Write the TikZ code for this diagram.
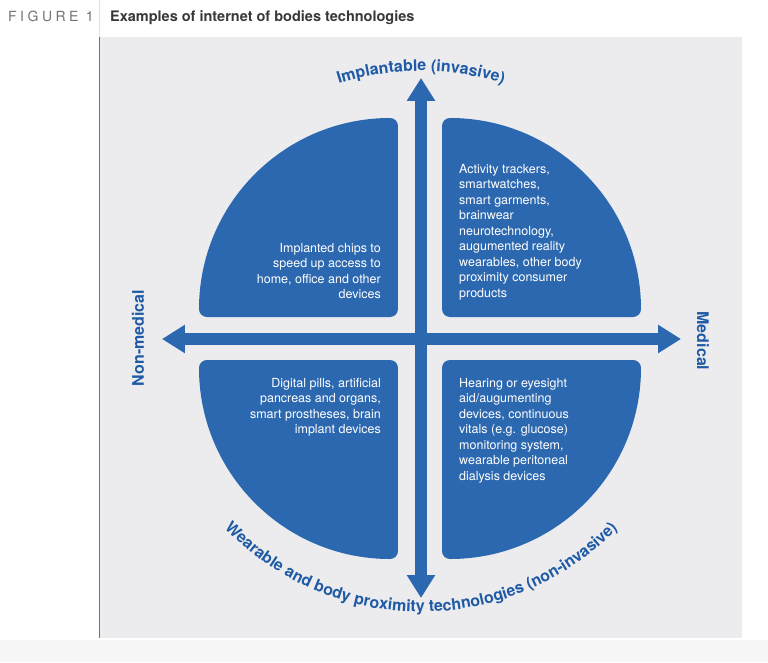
\documentclass[tikz,border=0pt]{standalone}
\usepackage{fontspec}
\setmainfont{TeX Gyre Heros}
\usetikzlibrary{arrows.meta,decorations.text}
\definecolor{quadblue}{HTML}{2C68B0}
\definecolor{axisblue}{HTML}{1F5AA5}
\definecolor{panelgray}{HTML}{ECECEF}

\begin{document}
\begin{tikzpicture}[x=1pt, y=1pt,
  quad/.style={fill=quadblue, draw=quadblue, line width=16pt, line join=round},
  quadtext/.style={text=white, inner sep=0pt, font=\fontsize{12.5}{15.5}\selectfont},
  axis/.style={draw=quadblue, line width=12.5pt, {Triangle[length=23pt,width=27pt]}-{Triangle[length=23pt,width=27pt]}},
  axislabel/.style={text=axisblue, inner sep=0pt, font=\fontsize{16}{18}\selectfont\bfseries}]
\useasboundingbox (-421,-323) rectangle (347,339);
\fill[white] (-421,-323) rectangle (347,339);
\fill[black!3] (-421,-323) rectangle (347,-301);
\fill[panelgray] (-321,-299) rectangle (321,302);
\draw[black!12, line width=1pt] (-321,339) -- (-321,302);
\draw[black!55, line width=1pt] (-321,302) -- (-321,-299);
% header
\node[anchor=base west, inner sep=0pt, text=black!55, font=\fontsize{14}{16}\selectfont\addfontfeatures{LetterSpace=25}] (fig) at (-413,317) {FIGURE 1};
\node[anchor=base west, inner sep=0pt, text=black!78, font=\fontsize{14.5}{16}\selectfont\bfseries] (title) at (-311,317) {Examples of internet of bodies technologies};
% quadrants
\path[quad] (29,30) -- (29,213) arc[start angle=90, end angle=0, radius=183] -- cycle;
\path[quad] (-31,30) -- (-31,213) arc[start angle=90, end angle=180, radius=183] -- cycle;
\path[quad] (-31,-29) -- (-31,-212) arc[start angle=270, end angle=180, radius=183] -- cycle;
\path[quad] (29,-29) -- (29,-212) arc[start angle=270, end angle=360, radius=183] -- cycle;
% axes
\coordinate (west) at (-259,0);
\coordinate (east) at (260,0);
\coordinate (north) at (0,261);
\coordinate (south) at (0,-259);
\draw[axis] (west) -- (east);
\draw[axis] (south) -- (north);
% quadrant texts
\node[quadtext, anchor=north east, align=right] (implanted) at (-40,96) {Implanted chips to\\speed up access to\\home, office and other\\devices};
\node[quadtext, anchor=north west, align=left] (trackers) at (38,175) {Activity trackers,\\smartwatches,\\smart garments,\\brainwear\\neurotechnology,\\augumented reality\\wearables, other body\\proximity consumer\\products};
\node[quadtext, anchor=north east, align=right] (pills) at (-40,-39) {Digital pills, artificial\\pancreas and organs,\\smart prostheses, brain\\implant devices};
\node[quadtext, anchor=north west, align=left] (hearing) at (38,-39) {Hearing or eyesight\\aid/augumenting\\devices, continuous\\vitals (e.g. glucose)\\monitoring system,\\wearable peritoneal\\dialysis devices};
% axis labels
\node[axislabel, rotate=90] (nonmedical) at (-283,1) {Non-medical};
\node[axislabel, rotate=-90] (medical) at (282,-2) {Medical};
\path[decorate, decoration={text along path, text align=center, text color=axisblue,
  text={|\fontsize{16}{18}\selectfont\bfseries|Implantable (invasive)}}]
  (120:268) arc[start angle=120, end angle=60, radius=268];
\path[decorate, decoration={text along path, text align=center, text color=axisblue,
  text={|\fontsize{16}{18}\selectfont\bfseries|Wearable and body proximity technologies (non-invasive)}}]
  (215:273) arc[start angle=215, end angle=325, radius=273];
\end{tikzpicture}
\end{document}
